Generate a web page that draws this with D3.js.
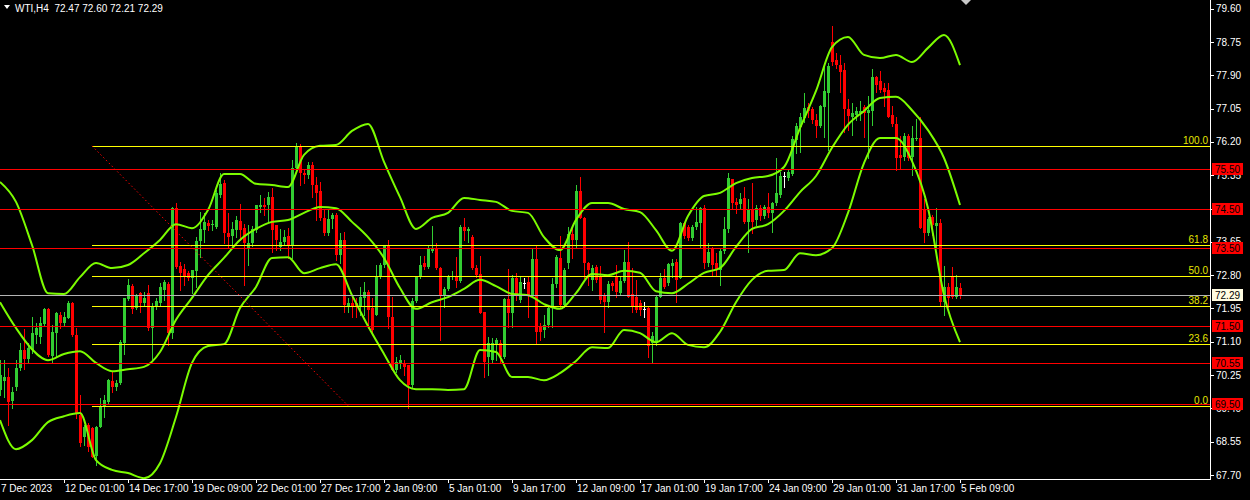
<!DOCTYPE html>
<html><head><meta charset="utf-8">
<script src="https://cdn.jsdelivr.net/npm/d3@7/dist/d3.min.js"></script>
<style>html,body{margin:0;padding:0;background:#000;overflow:hidden}</style>
</head><body><svg id="c" width="1250" height="500"></svg>
<script>
// ---------- DATA ----------
const symbolTitle = "WTI,H4  72.47 72.60 72.21 72.29";
const opens = [69.87,70.10,70.20,69.59,69.95,70.43,70.89,70.66,70.89,71.27,71.22,71.55,71.94,70.74,71.32,71.78,71.58,71.71,72.09,71.27,69.23,68.67,68.97,68.90,68.18,68.92,69.46,69.56,70.10,69.95,70.05,71.07,72.19,72.52,71.96,72.34,72.09,72.34,71.45,71.99,72.09,72.42,72.57,71.32,74.51,73.03,72.96,72.85,72.73,72.91,73.67,73.95,74.13,74.08,74.03,74.85,75.15,73.87,73.80,73.95,74.18,74.00,73.49,73.62,73.95,74.54,74.59,74.59,74.79,74.08,73.52,73.65,73.80,73.57,75.53,76.10,75.41,75.36,75.61,75.10,74.95,74.26,73.87,74.23,74.33,73.31,73.70,72.01,72.09,72.09,71.99,72.22,72.37,71.96,71.78,72.75,73.06,73.57,71.73,70.38,70.56,70.56,70.51,69.99,72.14,72.75,73.11,73.01,73.42,73.47,72.98,72.27,72.45,72.75,72.78,72.65,74.03,73.93,73.77,72.98,72.83,71.86,70.71,70.63,71.02,71.07,70.71,72.19,71.83,72.73,72.17,72.60,72.63,72.27,73.21,71.48,71.40,71.53,71.96,72.57,73.24,72.04,73.11,73.85,73.70,74.95,74.26,73.11,72.68,73.01,72.75,72.29,72.11,72.60,72.78,72.34,72.65,73.13,72.32,72.24,72.09,71.94,71.96,71.07,71.07,72.24,72.73,72.60,73.03,73.13,72.73,74.13,74.03,73.75,74.03,74.13,74.51,73.11,73.49,73.11,72.93,73.42,73.98,75.25,74.66,74.62,74.77,74.16,74.46,74.21,74.51,74.31,74.54,74.39,74.64,74.85,75.33,75.28,75.38,76.25,76.58,76.81,77.09,77.04,76.76,76.61,77.09,77.45,78.75,78.29,78.16,78.04,77.04,76.84,76.89,76.94,77.09,76.94,76.99,77.86,77.75,77.57,77.52,76.89,76.66,75.87,75.81,76.35,75.81,76.27,76.30,74.49,73.87,74.28,74.05,74.13,72.11,72.50,72.75,72.24,72.47];
const highs = [70.63,70.63,70.43,69.95,70.63,71.07,71.42,71.07,71.73,71.58,71.73,71.96,71.96,71.53,71.86,71.86,71.86,72.14,72.11,71.45,69.74,68.97,69.03,68.92,68.95,69.66,69.74,70.15,70.33,70.12,71.14,72.22,72.70,72.57,72.32,72.37,72.37,72.55,72.09,72.22,72.60,72.68,72.63,74.54,74.64,73.13,73.08,72.91,72.93,73.77,74.41,74.39,74.21,74.21,74.97,75.41,75.23,74.39,74.16,74.31,74.62,74.10,74.08,74.05,74.59,74.85,74.77,74.92,75.02,74.08,73.98,73.95,74.00,75.74,76.17,76.15,75.48,75.69,75.69,75.30,75.18,74.46,74.46,74.39,74.39,73.87,73.90,72.22,72.24,72.22,72.50,72.63,72.42,72.22,73.06,73.11,73.57,73.70,72.24,70.71,70.76,70.63,70.51,72.22,72.78,73.29,73.29,73.54,74.05,73.62,73.01,72.50,72.80,72.91,73.26,74.08,74.26,74.03,73.82,73.06,73.29,71.86,71.22,71.20,71.20,71.14,72.22,72.96,72.80,72.85,72.75,72.73,72.75,73.49,73.57,71.58,71.78,72.04,72.73,73.31,73.80,72.98,74.03,74.03,75.10,75.30,74.28,73.13,73.06,73.06,73.03,72.34,72.65,72.65,73.06,72.75,73.44,73.65,72.98,72.68,72.17,72.11,71.99,71.35,72.29,72.85,72.96,73.11,73.21,73.21,74.16,74.16,74.08,74.08,74.54,74.54,74.59,73.62,73.52,73.36,73.49,74.28,75.41,75.25,74.77,74.90,75.05,74.74,75.15,74.59,74.59,74.59,74.90,74.66,75.79,75.43,75.43,75.48,76.35,76.68,76.94,77.45,77.19,77.09,76.91,77.14,78.11,78.21,79.16,78.47,78.42,78.21,77.30,77.19,77.09,77.24,77.14,77.37,78.06,77.88,78.01,77.70,77.70,77.12,76.84,76.35,76.43,76.40,76.61,76.78,76.84,74.74,74.28,74.33,74.51,74.23,73.03,72.60,73.01,72.80,72.60];
const lows = [69.74,69.69,68.97,69.41,69.87,70.38,70.40,70.58,70.81,71.07,71.07,71.53,70.74,70.56,70.71,71.45,71.53,71.71,71.25,69.15,68.44,68.46,68.31,68.16,67.95,68.92,69.18,69.54,69.82,69.87,70.02,70.79,72.17,71.83,71.94,71.86,72.04,71.40,70.63,71.94,72.04,72.17,71.02,71.20,72.98,72.42,72.55,72.68,72.34,72.50,73.26,73.65,73.95,73.95,74.00,74.79,73.62,73.52,73.52,73.77,73.70,72.55,73.06,73.54,73.90,74.41,74.33,74.16,73.39,73.44,73.44,73.57,73.24,73.24,75.48,75.10,75.15,75.28,74.79,74.21,74.21,73.82,73.82,74.00,73.19,73.11,71.86,71.86,71.73,71.73,71.78,71.78,71.45,71.35,71.78,72.73,73.01,71.45,70.38,70.33,70.43,70.25,69.41,69.95,72.11,72.73,72.96,72.98,73.39,72.96,71.14,71.99,72.42,72.70,72.50,72.63,73.70,73.65,72.96,72.75,71.83,70.20,70.25,70.56,70.63,70.56,70.68,71.48,71.48,72.17,72.11,72.47,71.73,72.24,71.07,71.14,71.22,71.48,71.48,72.50,71.99,71.99,72.98,73.24,73.52,74.26,72.73,72.55,72.42,72.63,72.09,71.35,71.99,72.42,72.24,72.29,72.63,72.24,71.86,71.86,71.78,71.73,70.71,70.58,71.02,72.24,72.47,72.55,72.75,72.11,72.73,73.75,73.70,73.70,73.98,73.52,72.98,73.03,72.80,72.80,72.55,73.36,73.90,74.49,74.39,74.51,74.13,73.39,73.87,74.08,74.21,74.26,74.28,73.90,74.59,74.79,75.05,75.23,75.36,75.92,75.94,76.71,76.84,76.68,76.33,76.58,76.33,75.99,78.16,78.09,77.47,76.45,76.50,76.38,76.76,76.76,76.33,75.79,76.63,77.47,77.47,77.12,76.84,76.61,75.48,75.53,75.74,75.74,75.36,76.25,74.00,73.65,73.82,73.82,73.52,72.04,71.78,71.99,72.22,72.22,72.21];
const closes = [70.25,70.20,69.56,69.82,70.43,70.89,70.66,70.94,71.32,71.45,71.58,71.94,70.76,71.35,71.83,71.58,71.73,72.09,71.27,69.28,68.52,68.92,68.41,68.16,68.92,69.43,69.61,70.12,69.95,70.05,71.09,72.22,72.55,71.94,72.27,72.09,72.22,71.45,71.99,72.14,72.50,72.63,71.32,74.51,73.01,72.85,72.75,72.73,72.93,73.67,73.98,74.16,74.05,74.10,74.90,75.13,73.87,73.77,73.98,74.21,73.95,73.62,73.62,73.98,74.59,74.59,74.54,74.79,73.95,73.70,73.65,73.77,73.57,75.53,76.10,75.41,75.36,75.61,75.10,74.90,74.26,73.87,74.23,74.33,73.31,73.70,72.04,72.09,71.99,71.99,72.24,72.37,71.91,71.40,72.78,73.06,73.57,71.73,70.38,70.58,70.63,70.45,69.99,72.14,72.78,73.06,73.01,73.49,73.49,72.98,72.29,72.45,72.78,72.78,72.65,74.03,73.93,73.98,72.98,72.80,71.83,70.58,71.07,71.07,71.14,70.71,72.19,71.83,72.73,72.29,72.63,72.60,72.27,73.21,71.35,71.35,71.53,71.96,72.57,73.26,72.04,72.93,73.85,73.70,74.95,74.26,73.11,72.93,72.98,72.68,72.17,72.11,72.57,72.52,72.37,72.65,73.13,72.24,71.99,71.91,71.91,71.94,70.99,71.25,72.24,72.73,72.50,73.08,73.11,72.68,74.13,73.80,73.75,74.03,74.16,74.51,73.11,73.39,73.06,72.93,73.42,73.98,75.28,74.64,74.59,74.74,74.16,74.46,74.16,74.51,74.31,74.54,74.39,74.64,74.90,75.33,75.33,75.43,76.27,76.61,76.84,77.07,76.99,76.76,76.61,77.12,77.50,78.14,78.24,78.16,77.98,77.04,76.86,76.94,76.99,76.99,76.94,77.01,77.86,77.65,77.52,77.47,76.84,76.66,75.79,75.79,76.35,75.79,76.30,76.30,74.00,73.87,74.23,74.08,74.13,72.11,72.50,72.22,72.24,72.50,72.29];
// Bollinger bands, one reading every 4th bar
const bandUpper = [75.18,74.67,73.57,72.34,72.32,72.75,73.11,72.98,73.06,73.36,73.70,74.10,74.00,74.46,75.38,75.38,75.13,75.10,75.05,75.87,76.10,76.12,76.48,76.66,75.69,74.79,73.98,74.26,74.39,74.77,74.72,74.67,74.44,74.39,73.77,73.44,74.21,74.64,74.64,74.49,74.41,73.95,73.42,74.31,74.82,74.90,75.15,75.28,75.33,75.56,76.55,77.50,78.62,78.88,78.42,78.34,78.42,78.24,78.60,78.93,78.16];
const bandMiddle = [72.11,71.45,70.91,70.63,70.79,70.86,70.56,70.35,70.40,70.46,70.84,71.66,72.22,72.80,73.24,73.70,73.98,74.16,74.21,74.39,74.54,74.51,74.16,73.77,73.24,72.47,71.94,72.11,72.24,72.45,72.68,72.52,72.32,72.29,72.06,71.94,72.34,72.83,72.80,72.91,72.86,72.39,72.34,72.58,72.86,72.98,73.52,73.98,74.10,74.44,74.92,75.33,76.05,76.64,76.99,77.32,77.35,77.01,76.50,75.79,74.59];
const bandLower = [69.10,68.36,68.59,69.05,69.20,69.28,68.08,67.83,67.75,67.62,68.00,69.18,70.56,70.99,71.04,71.96,72.50,73.24,73.26,72.85,72.98,73.08,72.29,71.50,70.79,70.12,69.89,69.89,69.87,69.89,70.89,70.84,70.20,70.20,70.12,70.30,70.61,70.96,70.94,71.40,71.32,71.09,71.32,71.02,70.96,71.35,72.11,72.68,72.91,72.93,73.36,73.31,73.49,74.39,75.66,76.30,76.30,75.71,74.51,72.29,71.09];
const priceTicks = ["79.60","78.75","77.90","77.05","76.20","75.35","74.50","73.65","72.80","71.95","71.10","70.25","69.40","68.55","67.70"];
const timeLabels = ["7 Dec 2023","12 Dec 01:00","14 Dec 17:00","19 Dec 09:00","22 Dec 01:00","27 Dec 17:00","2 Jan 09:00","5 Jan 01:00","9 Jan 17:00","12 Jan 09:00","17 Jan 01:00","19 Jan 17:00","24 Jan 09:00","29 Jan 01:00","31 Jan 17:00","5 Feb 09:00"];
const redLevels = [75.50,74.50,73.50,71.50,70.55,69.50];
const fibLevels = [100.0,61.8,50.0,38.2,23.6,0.0];
const fibHigh = 76.10, fibLow = 69.47;
const fibBars = [23,87];
const lastPrice = 72.29;

// ---------- DRAW ----------
const W=1250,H=500, axisX=1210, axisY=479;
const FONT="'Liberation Sans', Arial, sans-serif";
const svg=d3.select('#c');
svg.append('rect').attr('width',W).attr('height',H).attr('fill','#000');
const nBars=closes.length;
const x=d3.scaleLinear().domain([0,nBars-1]).range([0,960]);
const y=d3.scaleLinear().domain([67.70,79.60]).range([475,8.7]);
const py=v=>Math.round(y(v))+0.5;
svg.append('defs').append('clipPath').attr('id','plot').append('rect')
  .attr('x',0).attr('y',0).attr('width',axisX).attr('height',axisY);
const plot=svg.append('g').attr('clip-path','url(#plot)');

// candles
const bars=d3.range(nBars).map(i=>({i,o:opens[i],h:highs[i],l:lows[i],c:closes[i]}));
const col=d=>d.c>d.o?'#32cd32':(d.c<d.o?'#ff0000':'#ffffff');
const cg=plot.append('g').attr('shape-rendering','crispEdges');
cg.selectAll('rect.w').data(bars).join('rect').attr('class','w')
  .attr('x',d=>Math.round(x(d.i))).attr('width',1)
  .attr('y',d=>Math.round(y(d.h))).attr('height',d=>Math.max(1,Math.round(y(d.l))-Math.round(y(d.h))+1))
  .attr('fill',col);
cg.selectAll('rect.b').data(bars).join('rect').attr('class','b')
  .attr('x',d=>Math.round(x(d.i))-1).attr('width',3)
  .attr('y',d=>Math.round(y(Math.max(d.o,d.c))))
  .attr('height',d=>Math.max(1,Math.round(y(Math.min(d.o,d.c)))-Math.round(y(Math.max(d.o,d.c)))))
  .attr('fill',col);

// bands
const bandBars=d3.range(0,nBars,4);
const line=d3.line().x((d,k)=>x(bandBars[k])).y(d=>y(d)).curve(d3.curveMonotoneX);
[bandUpper,bandMiddle,bandLower].forEach(b=>{
  plot.append('path').attr('d',line(b)).attr('fill','none')
    .attr('stroke','#7cfc00').attr('stroke-width',2).attr('stroke-linejoin','round');
});

// horizontal levels
const lg=plot.append('g');
redLevels.forEach(v=>{
  lg.append('line').attr('x1',0).attr('x2',axisX).attr('y1',py(v)).attr('y2',py(v))
    .attr('stroke','#ff0000').attr('stroke-width',1);
});
const fibPrice=l=>fibLow+(fibHigh-fibLow)*l/100;
fibLevels.forEach(l=>{
  lg.append('line').attr('x1',x(fibBars[0])).attr('x2',axisX).attr('y1',py(fibPrice(l))).attr('y2',py(fibPrice(l)))
    .attr('stroke','#ffff00').attr('stroke-width',1);
});
lg.append('line').attr('x1',0).attr('x2',axisX).attr('y1',py(lastPrice)).attr('y2',py(lastPrice))
  .attr('stroke','#b4b4b4').attr('stroke-width',1);
// fib trend line
plot.append('line').attr('x1',x(fibBars[0])).attr('y1',y(fibHigh)).attr('x2',x(fibBars[1])).attr('y2',y(fibLow))
  .attr('stroke','#ff0000').attr('stroke-width',1).attr('stroke-dasharray','1.5,2.5');
// fib labels
fibLevels.forEach(l=>{
  svg.append('text').attr('x',axisX-2).attr('y',py(fibPrice(l))-2.5).attr('text-anchor','end')
    .attr('fill','#e6e600').attr('font-family',FONT).attr('font-size',10).text(l.toFixed(1));
});

// axes frame
const ax=svg.append('g').attr('shape-rendering','crispEdges');
ax.append('line').attr('x1',axisX+0.5).attr('x2',axisX+0.5).attr('y1',0).attr('y2',axisY+0.5).attr('stroke','#fff');
ax.append('line').attr('x1',0).attr('x2',axisX+0.5).attr('y1',axisY+0.5).attr('y2',axisY+0.5).attr('stroke','#fff');

// price axis
priceTicks.forEach(t=>{
  const yy=y(+t);
  ax.append('line').attr('x1',axisX).attr('x2',axisX+4).attr('y1',Math.round(yy)+0.5).attr('y2',Math.round(yy)+0.5).attr('stroke','#fff');
  svg.append('text').attr('x',axisX+6).attr('y',yy).attr('dy','0.35em').attr('fill','#fff')
    .attr('font-family',FONT).attr('font-size',10).text(t);
});
// red level boxes
redLevels.forEach(v=>{
  const yy=Math.round(y(v));
  svg.append('rect').attr('x',axisX+2).attr('y',yy-6).attr('width',31).attr('height',12).attr('fill','#ff0000');
  svg.append('text').attr('x',axisX+17.5).attr('y',yy).attr('dy','0.35em').attr('text-anchor','middle')
    .attr('fill','#000').attr('font-family',FONT).attr('font-size',10).text(v.toFixed(2));
});
// last price box
{
  const yy=Math.round(y(lastPrice));
  svg.append('rect').attr('x',axisX+2).attr('y',yy-6).attr('width',31).attr('height',12).attr('fill','#fffbe0');
  svg.append('text').attr('x',axisX+17.5).attr('y',yy).attr('dy','0.35em').attr('text-anchor','middle')
    .attr('fill','#000').attr('font-family',FONT).attr('font-size',10).text(lastPrice.toFixed(2));
}

// time axis
timeLabels.forEach((t,k)=>{
  const bi=k*16, xx=Math.round(x(bi));
  if(k>0) ax.append('line').attr('x1',xx+0.5).attr('x2',xx+0.5).attr('y1',axisY).attr('y2',axisY+4).attr('stroke','#fff');
  svg.append('text').attr('x',k>0?xx+1:1).attr('y',492).attr('fill','#fff')
    .attr('font-family',FONT).attr('font-size',10).text(t);
});

// title
svg.append('path').attr('d','M4,5 L10,5 L7,9 Z').attr('fill','#fff');
svg.append('text').attr('x',15).attr('y',12).attr('fill','#fff').attr('font-family',FONT).attr('font-size',10)
  .attr('xml:space','preserve').style('white-space','pre').text(symbolTitle);
// shift marker
svg.append('path').attr('d','M961,0 L971,0 L966,5 Z').attr('fill','#c8c8c8');
</script></body></html>
